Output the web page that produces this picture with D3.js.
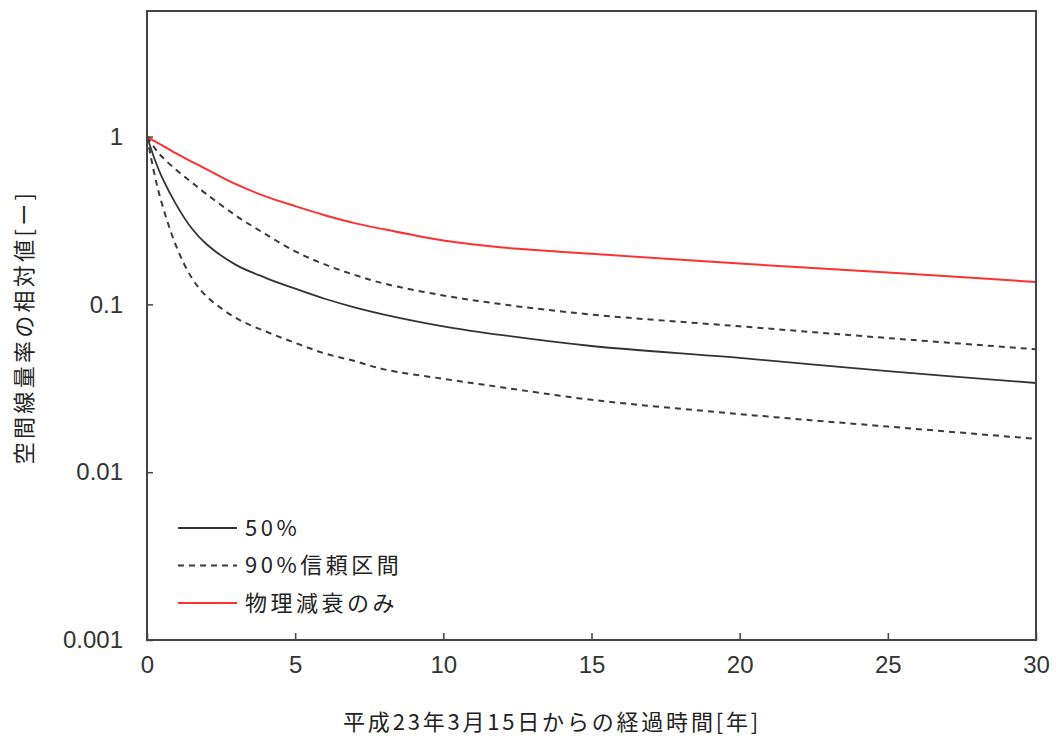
<!DOCTYPE html>
<html>
<head>
<meta charset="utf-8">
<script src="https://cdn.jsdelivr.net/npm/d3@7"></script>
<style>
  html, body { margin: 0; padding: 0; background: #fff; }
  svg { display: block; }
</style>
</head>
<body>
<svg id="chart" width="1056" height="743"></svg>
<script>
// ---- data ----
const years      = [0, 0.25, 0.5, 1, 1.5, 2, 3, 4, 5, 6, 7, 8, 10, 12, 15, 20, 25, 30];
const median50   = [1, 0.74, 0.575, 0.389, 0.285, 0.229, 0.172, 0.144, 0.124, 0.108, 0.096, 0.087, 0.074, 0.0655, 0.0565, 0.048, 0.040, 0.034];
const upper90    = [1, 0.86, 0.76, 0.63, 0.535, 0.455, 0.338, 0.262, 0.207, 0.173, 0.150, 0.133, 0.113, 0.100, 0.087, 0.074, 0.063, 0.054];
const lower90    = [1, 0.60, 0.40, 0.219, 0.145, 0.112, 0.083, 0.069, 0.059, 0.051, 0.046, 0.041, 0.036, 0.032, 0.027, 0.0222, 0.0187, 0.0158];
const physical   = [1, 0.94, 0.89, 0.79, 0.71, 0.64, 0.52, 0.44, 0.385, 0.34, 0.305, 0.28, 0.24, 0.218, 0.200, 0.175, 0.155, 0.136];
const xTicks     = [0, 5, 10, 15, 20, 25, 30];
const yTicks     = [1, 0.1, 0.01, 0.001];
const yTickLabels= ["1", "0.1", "0.01", "0.001"];
const legendLabels = ["50%", "90%信頼区間", "物理減衰のみ"];
const xTitle = "平成23年3月15日からの経過時間[年]";
const yTitle = "空間線量率の相対値[ー]";

// ---- layout ----
const L = 147, R = 1036, T = 11, B = 640;
const Y_MAX = 5.6;
const svg = d3.select("#chart");
const x = d3.scaleLinear().domain([0, 30]).range([L, R]);
const y = d3.scaleLog().domain([0.001, Y_MAX]).range([B, T]);

const frameColor = "#444";
const tickFont = "'Liberation Sans', Arial, sans-serif";
const jpFont = "'Noto Sans CJK JP', sans-serif";

// curves
const line = d3.line().x(d => x(d[0])).y(d => y(d[1])).curve(d3.curveCatmullRom.alpha(0.5));
const series = [
  {vals: lower90,  color: "#3a3a3a", dash: "6,5", w: 2},
  {vals: upper90,  color: "#3a3a3a", dash: "6,5", w: 2},
  {vals: median50, color: "#333",    dash: null,  w: 1.8},
  {vals: physical, color: "#ff3030", dash: null,  w: 2}
];
const plot = svg.append("g");
series.forEach(s => {
  plot.append("path")
    .datum(years.map((t, i) => [t, s.vals[i]]))
    .attr("d", line)
    .attr("fill", "none")
    .attr("stroke", s.color)
    .attr("stroke-width", s.w)
    .attr("stroke-dasharray", s.dash);
});

// frame
svg.append("rect")
  .attr("x", L).attr("y", T).attr("width", R - L).attr("height", B - T)
  .attr("fill", "none").attr("stroke", frameColor).attr("stroke-width", 2);

// x axis (inside ticks)
const xAxis = d3.axisBottom(x).tickValues(xTicks).tickSize(-7).tickPadding(14).tickFormat(d3.format("d"));
const gx = svg.append("g").attr("transform", `translate(0,${B})`).call(xAxis);
gx.select(".domain").remove();
gx.selectAll(".tick line").attr("stroke", frameColor).attr("stroke-width", 1.5);
gx.selectAll(".tick text").attr("font-family", tickFont).attr("font-size", 24).attr("fill", "#333").attr("dy", "0.71em").attr("y", 16);

// y axis
const yAxis = d3.axisLeft(y).tickValues(yTicks).tickSize(-6).tickPadding(24)
  .tickFormat((d, i) => yTickLabels[i]);
const gy = svg.append("g").attr("transform", `translate(${L},0)`).call(yAxis);
gy.select(".domain").remove();
gy.selectAll(".tick line").attr("stroke", frameColor).attr("stroke-width", 1.5);
gy.selectAll(".tick text").attr("font-family", tickFont).attr("font-size", 24).attr("fill", "#333");

// axis titles
svg.append("text")
  .attr("x", 552).attr("y", 730)
  .attr("text-anchor", "middle")
  .attr("font-family", jpFont).attr("font-size", 22).attr("letter-spacing", 2.8)
  .attr("fill", "#222")
  .text(xTitle);
svg.append("text")
  .attr("transform", "translate(32,327) rotate(-90)")
  .attr("text-anchor", "middle")
  .attr("font-family", jpFont).attr("font-size", 22).attr("letter-spacing", 3.3)
  .attr("fill", "#222")
  .text(yTitle);

// legend
const legendStyles = [
  {color: "#333", dash: null},
  {color: "#3a3a3a", dash: "6,5"},
  {color: "#ff3030", dash: null}
];
const lg = svg.append("g");
legendLabels.forEach((lab, i) => {
  const ly = 528 + i * 37.5;
  lg.append("line").attr("x1", 178).attr("x2", 237).attr("y1", ly).attr("y2", ly)
    .attr("stroke", legendStyles[i].color).attr("stroke-width", 2)
    .attr("stroke-dasharray", legendStyles[i].dash);
  lg.append("text").attr("x", 245).attr("y", ly).attr("dy", "0.35em")
    .attr("font-family", jpFont).attr("font-size", 22).attr("letter-spacing", 3.5)
    .attr("fill", "#222").text(lab);
});
</script>
</body>
</html>
